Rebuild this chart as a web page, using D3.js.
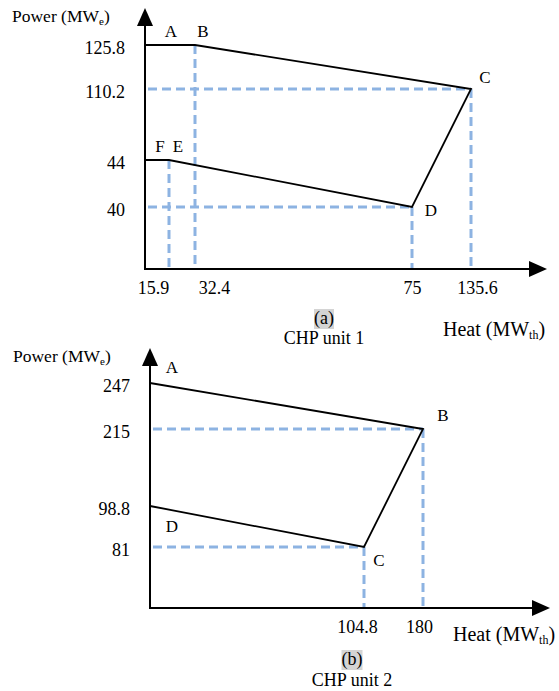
<!DOCTYPE html>
<html>
<head>
<meta charset="utf-8">
<script src="https://cdn.jsdelivr.net/npm/d3@7"></script>
<style>
    body { margin: 0; background: #fff; }
    svg { display: block; font-family: 'Liberation Serif', 'Times New Roman', serif; }
</style>
</head>
<body>
<svg id="chart" width="559" height="691"></svg>
<script>
// CHP unit 1 operating region (heat MWth, power MWe)
const unit1Names = ['A', 'B', 'C', 'D', 'E', 'F'];
const unit1Heat = [0, 32.4, 135.6, 75, 15.9, 0];
const unit1Power = [125.8, 125.8, 110.2, 40, 44, 44];
const unit1HeatTicks = [15.9, 32.4, 75, 135.6];
const unit1PowerTicks = [125.8, 110.2, 44, 40];

// CHP unit 2 operating region
const unit2Names = ['A', 'B', 'C', 'D'];
const unit2Heat = [0, 180, 104.8, 0];
const unit2Power = [247, 215, 81, 98.8];
const unit2HeatTicks = [104.8, 180];
const unit2PowerTicks = [247, 215, 98.8, 81];

const dashColor = '#8db3e2';
const svg = d3.select('#chart');

// the drawing is a schematic, so the scales are piecewise
const panels = [
    {
        names: unit1Names, heat: unit1Heat, power: unit1Power,
        heatTicks: unit1HeatTicks, powerTicks: unit1PowerTicks,
        x: d3.scaleLinear().domain([0, 15.9, 32.4, 75, 135.6]).range([145, 169, 195, 412, 471]),
        y: d3.scaleLinear().domain([0, 40, 44, 110.2, 125.8]).range([269, 207, 160, 89, 45]),
        top: 8, right: 547,
        // dashed guides: [heat, power] corners
        guides: [[32.4, 125.8], [135.6, 110.2], [75, 40], [15.9, 44]],
        hGuides: [[135.6, 110.2], [75, 40]],
        tickDx: { 15.9: -16, 32.4: 19, 75: 0, 135.6: 6 },
        labelOff: { A: [26, -8], B: [8, -8], C: [14, -6], D: [19, 9], E: [9, -8], F: [15, -8] },
        yTitle: [12, 22], xTitle: [443, 336], tag: '(a)', tagPos: [324, 324], caption: 'CHP unit 1', capPos: [324, 344]
    },
    {
        names: unit2Names, heat: unit2Heat, power: unit2Power,
        heatTicks: unit2HeatTicks, powerTicks: unit2PowerTicks,
        x: d3.scaleLinear().domain([0, 104.8, 180]).range([150, 364, 423]),
        y: d3.scaleLinear().domain([0, 81, 98.8, 215, 247]).range([608, 547, 506, 429, 383]),
        top: 348, right: 550,
        guides: [[180, 215], [104.8, 81]],
        hGuides: [[180, 215], [104.8, 81]],
        tickDx: { 104.8: -7, 180: -4 },
        labelOff: { A: [22, -10], B: [20, -8], C: [15, 19], D: [22, 26] },
        yTitle: [13, 362], xTitle: [453, 641], tag: '(b)', tagPos: [352, 665], caption: 'CHP unit 2', capPos: [352, 686]
    }
];

panels.forEach(p => {
    const g = svg.append('g');
    const x0 = p.x(0), y0 = p.y(0);

    // dashed guide lines
    p.guides.forEach(([h, pw]) => {
        g.append('line')
            .attr('x1', p.x(h)).attr('x2', p.x(h))
            .attr('y1', p.y(pw)).attr('y2', y0)
            .attr('stroke', dashColor).attr('stroke-width', 3)
            .attr('stroke-dasharray', '9,5');
    });
    p.hGuides.forEach(([h, pw]) => {
        g.append('line')
            .attr('x1', x0 + 3).attr('x2', p.x(h))
            .attr('y1', p.y(pw)).attr('y2', p.y(pw))
            .attr('stroke', dashColor).attr('stroke-width', 3)
            .attr('stroke-dasharray', '9,5');
    });

    // operating region boundary
    const pts = p.names.map((n, i) => [p.heat[i], p.power[i]]);
    const line = d3.line().x(d => p.x(d[0])).y(d => p.y(d[1]));
    g.append('path')
        .datum(pts)
        .attr('d', line)
        .attr('fill', 'none')
        .attr('stroke', '#000')
        .attr('stroke-width', 1.8);

    // axes lines with arrows
    g.append('line').attr('x1', x0).attr('x2', x0).attr('y1', y0 + 1).attr('y2', p.top + 14)
        .attr('stroke', '#000').attr('stroke-width', 2);
    g.append('path')
        .attr('d', `M${x0},${p.top} L${x0 - 8},${p.top + 18} L${x0 + 8},${p.top + 18} Z`)
        .attr('fill', '#000');
    g.append('line').attr('x1', x0).attr('x2', p.right - 12).attr('y1', y0).attr('y2', y0)
        .attr('stroke', '#000').attr('stroke-width', 2);
    g.append('path')
        .attr('d', `M${p.right},${y0} L${p.right - 18},${y0 - 8} L${p.right - 18},${y0 + 8} Z`)
        .attr('fill', '#000');

    // tick labels via d3 axes
    const xAxis = g.append('g')
        .attr('transform', `translate(0,${y0})`)
        .call(d3.axisBottom(p.x).tickValues(p.heatTicks).tickSize(0).tickPadding(12).tickFormat(d => d));
    xAxis.attr('font-family', null).attr('font-size', null);
    xAxis.select('.domain').remove();
    xAxis.selectAll('text')
        .attr('font-size', 18).attr('fill', '#000')
        .attr('dx', d => p.tickDx[d]);

    const yAxis = g.append('g')
        .attr('transform', `translate(${x0},0)`)
        .call(d3.axisLeft(p.y).tickValues(p.powerTicks).tickSize(0).tickPadding(20).tickFormat(d => d));
    yAxis.attr('font-family', null).attr('font-size', null);
    yAxis.select('.domain').remove();
    yAxis.selectAll('text')
        .attr('font-size', 18).attr('fill', '#000')
        .attr('dy', '0.45em');

    // corner point letters
    p.names.forEach((n, i) => {
        const off = p.labelOff[n];
        g.append('text')
            .attr('x', p.x(p.heat[i]) + off[0])
            .attr('y', p.y(p.power[i]) + off[1])
            .attr('text-anchor', 'middle')
            .attr('font-size', 17)
            .text(n);
    });

    // axis titles
    const yt = g.append('text').attr('x', p.yTitle[0]).attr('y', p.yTitle[1]).attr('font-size', 17.5);
    yt.append('tspan').text('Power (MW');
    yt.append('tspan').attr('font-size', 11).attr('dy', 3).text('e');
    yt.append('tspan').attr('dy', -3).text(')');

    const xt = g.append('text').attr('x', p.xTitle[0]).attr('y', p.xTitle[1]).attr('font-size', 20);
    xt.append('tspan').text('Heat (MW');
    xt.append('tspan').attr('font-size', 12).attr('dy', 3).text('th');
    xt.append('tspan').attr('dy', -3).text(')');

    // panel tag with grey highlight and caption
    const tag = g.append('text')
        .attr('x', p.tagPos[0]).attr('y', p.tagPos[1])
        .attr('text-anchor', 'middle').attr('font-size', 18)
        .text(p.tag);
    const bb = tag.node().getBBox();
    g.insert('rect', () => tag.node())
        .attr('x', bb.x).attr('y', bb.y + 1)
        .attr('width', bb.width).attr('height', bb.height - 1)
        .attr('fill', '#d4d4d4');
    g.append('text')
        .attr('x', p.capPos[0]).attr('y', p.capPos[1])
        .attr('text-anchor', 'middle').attr('font-size', 18)
        .text(p.caption);
});
</script>
</body>
</html>
